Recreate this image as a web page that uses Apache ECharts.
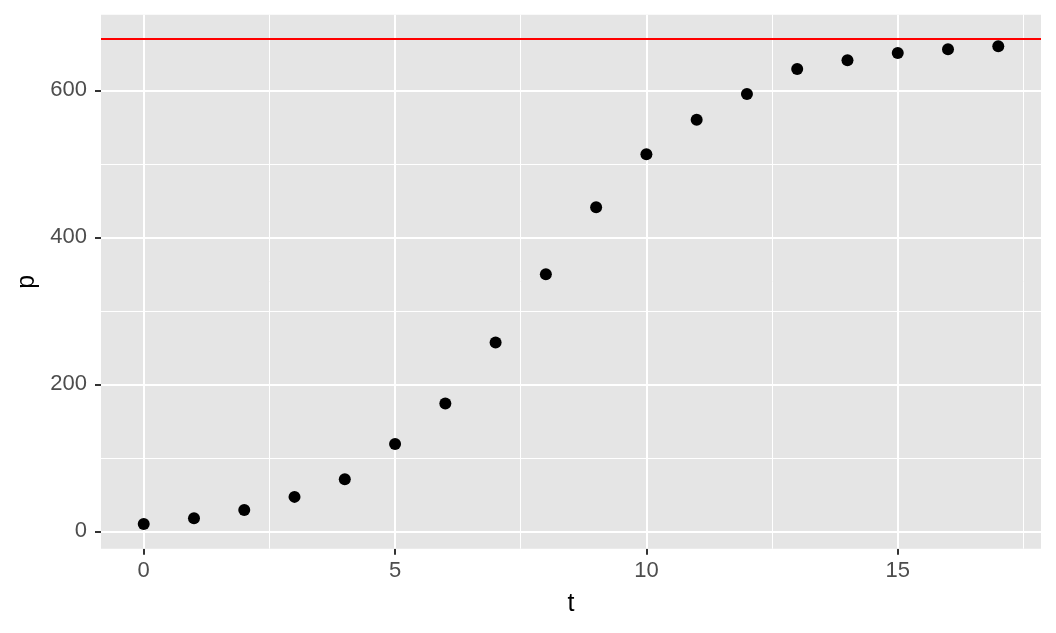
<!DOCTYPE html>
<html>
<head>
<meta charset="utf-8">
<script src="https://cdn.jsdelivr.net/npm/echarts@6/dist/echarts.min.js"></script>
<style>
  html, body { margin: 0; padding: 0; background: #ffffff; }
  #chart { width: 1056px; height: 633px; }
</style>
</head>
<body>
<div id="chart"></div>
<script>
// ---- data ----
const tValues = [0, 1, 2, 3, 4, 5, 6, 7, 8, 9, 10, 11, 12, 13, 14, 15, 16, 17];
const pValues = [10, 18, 29, 47, 71, 119, 174, 257, 350, 441, 513, 560, 595, 629, 641, 651, 656, 660];
const capacity = 670;

const xMajorTicks = [0, 5, 10, 15];
const xMinorTicks = [2.5, 7.5, 12.5, 17.5];
const yMajorTicks = [0, 200, 400, 600];
const yMinorTicks = [100, 300, 500];

const xTitle = 't';
const yTitle = 'p';

// ---- chart ----
const FONT = '"Liberation Sans", Arial, Helvetica, sans-serif';
const chart = echarts.init(document.getElementById('chart'), null, { renderer: 'canvas' });

const points = tValues.map((t, i) => [t, pValues[i]]);

const gridLines = [];
yMinorTicks.forEach(v => gridLines.push({ yAxis: v, lineStyle: { width: 1 } }));
xMinorTicks.forEach(v => gridLines.push({ xAxis: v, lineStyle: { width: 1 } }));
yMajorTicks.forEach(v => gridLines.push({ yAxis: v, lineStyle: { width: 2 } }));
xMajorTicks.forEach(v => gridLines.push({ xAxis: v, lineStyle: { width: 2 } }));

const option = {
  animation: false,
  backgroundColor: '#ffffff',
  textStyle: { fontFamily: FONT },
  grid: {
    left: 101, right: 15, top: 14.7, bottom: 84.3,
    show: true,
    backgroundColor: '#E5E5E5',
    borderWidth: 0
  },
  xAxis: {
    type: 'value',
    min: -0.85, max: 17.85,
    name: xTitle,
    nameLocation: 'middle',
    nameGap: 43,
    nameTextStyle: { fontSize: 25, color: '#000000', fontFamily: FONT },
    axisLine: { show: true, onZero: false, lineStyle: { color: '#333333', opacity: 0, width: 0 } },
    axisTick: { show: true, inside: false, customValues: xMajorTicks, length: 6, lineStyle: { color: '#333333', width: 2, opacity: 1 } },
    axisLabel: { customValues: xMajorTicks, fontSize: 22, color: '#4D4D4D', margin: 11, fontFamily: FONT },
    splitLine: { show: false }
  },
  yAxis: {
    type: 'value',
    min: -23.5, max: 703,
    name: yTitle,
    nameLocation: 'middle',
    nameGap: 58,
    nameRotate: 90,
    nameTextStyle: { fontSize: 25, color: '#000000', fontFamily: FONT },
    axisLine: { show: true, onZero: false, lineStyle: { color: '#333333', opacity: 0, width: 0 } },
    axisTick: { show: true, inside: false, customValues: yMajorTicks, length: 6, lineStyle: { color: '#333333', width: 2, opacity: 1 } },
    axisLabel: { customValues: yMajorTicks, fontSize: 22, color: '#4D4D4D', margin: 14, fontFamily: FONT },
    splitLine: { show: false }
  },
  series: [
    {
      type: 'scatter',
      data: [],
      z: 1,
      silent: true,
      markLine: {
        silent: true,
        symbol: ['none', 'none'],
        label: { show: false },
        animation: false,
        emphasis: { disabled: true },
        lineStyle: { color: '#FFFFFF', type: 'solid', width: 2 },
        data: gridLines
      }
    },
    {
      type: 'scatter',
      data: points,
      z: 5,
      symbol: 'circle',
      symbolSize: 12,
      itemStyle: { color: '#000000', opacity: 1 },
      emphasis: { disabled: true },
      silent: true
    },
    {
      type: 'scatter',
      data: [],
      z: 6,
      silent: true,
      markLine: {
        silent: true,
        symbol: ['none', 'none'],
        label: { show: false },
        animation: false,
        emphasis: { disabled: true },
        lineStyle: { color: '#FF0000', type: 'solid', width: 2 },
        data: [{ yAxis: capacity }]
      }
    }
  ]
};

chart.setOption(option);
</script>
</body>
</html>
